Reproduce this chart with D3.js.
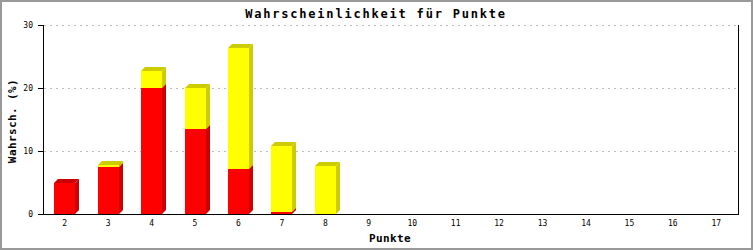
<!DOCTYPE html>
<html>
<head>
<meta charset="utf-8">
<script src="https://cdn.jsdelivr.net/npm/d3@7"></script>
<style>
  body { margin: 0; background: #fff; }
  text { font-family: "DejaVu Sans Mono", "Liberation Mono", monospace; }
</style>
</head>
<body>
<div id="chart"></div>
<script>
// categories (Punkte) and the two stacked series, in percent
var punkte = ["2","3","4","5","6","7","8","9","10","11","12","13","14","15","16","17"];
var rot    = [4.9, 7.5, 20.0, 13.5, 7.1, 0.3, 0, 0, 0, 0, 0, 0, 0, 0, 0, 0];
var gelb   = [0,   0.3, 2.7,  6.5, 19.2, 10.5, 7.6, 0, 0, 0, 0, 0, 0, 0, 0, 0];
var yTicks = [0, 10, 20, 30];

var W = 753, H = 250;
var pLeft = 43, pRight = 738, pTop = 25, pBottom = 214;
var depth = 4;

var svg = d3.select("#chart").append("svg")
    .attr("width", W)
    .attr("height", H);

svg.append("rect")
    .attr("x", 1).attr("y", 1)
    .attr("width", W - 2).attr("height", H - 2)
    .attr("fill", "#fff")
    .attr("stroke", "#999")
    .attr("stroke-width", 2);

var x = d3.scaleBand().domain(punkte).range([pLeft, pRight]).padding(0);
var y = d3.scaleLinear().domain([0, 30]).range([pBottom, pTop]);

// gridlines
svg.selectAll(".grid")
    .data(yTicks.filter(function(d) { return d > 0; }))
    .enter().append("line")
    .attr("x1", pLeft + 1).attr("x2", pRight - 1)
    .attr("y1", function(d) { return y(d) + 0.5; })
    .attr("y2", function(d) { return y(d) + 0.5; })
    .attr("stroke", "#bdbdbd")
    .attr("stroke-dasharray", "2,4");

// stacked data
var table = punkte.map(function(p, i) { return {p: p, rot: rot[i], gelb: gelb[i]}; });
var stack = d3.stack().keys(["rot", "gelb"])(table);
var farben = {rot: ["#ff0000", "#cc0000"], gelb: ["#ffff00", "#cccc00"]};

var barW = 21;

stack.forEach(function(serie) {
  var c = farben[serie.key];
  var g = svg.append("g");
  serie.forEach(function(s) {
    if (s[1] - s[0] <= 0) return;
    var cx = x(s.data.p) + x.bandwidth() / 2;
    var x0 = Math.round(cx - barW / 2), x1 = x0 + barW;
    var yb = Math.round(y(s[0])), yt = Math.round(y(s[1]));
    // side face
    g.append("polygon")
        .attr("points", [[x1, yb], [x1 + depth, yb - depth], [x1 + depth, yt - depth], [x1, yt]].join(" "))
        .attr("fill", c[1]);
    // top face
    g.append("polygon")
        .attr("points", [[x0, yt], [x0 + depth, yt - depth], [x1 + depth, yt - depth], [x1, yt]].join(" "))
        .attr("fill", c[1]);
    // front
    g.append("rect")
        .attr("x", x0).attr("y", yt)
        .attr("width", barW).attr("height", yb - yt)
        .attr("fill", c[0]);
  });
});

// axes lines
svg.append("line")
    .attr("x1", pLeft + 0.5).attr("x2", pLeft + 0.5)
    .attr("y1", pTop).attr("y2", pBottom + 0.5)
    .attr("stroke", "#000");
svg.append("line")
    .attr("x1", pRight + 0.5).attr("x2", pRight + 0.5)
    .attr("y1", pTop).attr("y2", pBottom + 0.5)
    .attr("stroke", "#000");
svg.append("line")
    .attr("x1", pLeft - 5).attr("x2", pRight + 1)
    .attr("y1", pBottom + 0.5).attr("y2", pBottom + 0.5)
    .attr("stroke", "#000");

// y ticks
svg.selectAll(".ytick")
    .data(yTicks)
    .enter().append("line")
    .attr("x1", pLeft - 5).attr("x2", pLeft)
    .attr("y1", function(d) { return y(d) + 0.5; })
    .attr("y2", function(d) { return y(d) + 0.5; })
    .attr("stroke", "#000");

svg.selectAll(".ylab")
    .data(yTicks)
    .enter().append("text")
    .attr("x", 33)
    .attr("y", function(d) { return y(d) + 3; })
    .attr("text-anchor", "end")
    .style("font-size", "8px")
    .text(function(d) { return d; });

// x labels
svg.selectAll(".xlab")
    .data(punkte)
    .enter().append("text")
    .attr("x", function(d) { return x(d) + x.bandwidth() / 2; })
    .attr("y", 226)
    .attr("text-anchor", "middle")
    .style("font-size", "8px")
    .text(function(d) { return d; });

// titles
svg.append("text")
    .attr("x", 376)
    .attr("y", 18)
    .attr("text-anchor", "middle")
    .style("font-size", "12px")
    .style("font-weight", "bold")
    .style("letter-spacing", "1.8px")
    .text("Wahrscheinlichkeit für Punkte");

svg.append("text")
    .attr("x", 390)
    .attr("y", 242)
    .attr("text-anchor", "middle")
    .style("font-size", "11px")
    .style("font-weight", "bold")
    .style("letter-spacing", "0.4px")
    .text("Punkte");

svg.append("text")
    .attr("transform", "translate(16,121) rotate(-90)")
    .attr("text-anchor", "middle")
    .style("font-size", "11px")
    .style("font-weight", "bold")
    .style("letter-spacing", "0.4px")
    .text("Wahrsch. (%)");
</script>
</body>
</html>
